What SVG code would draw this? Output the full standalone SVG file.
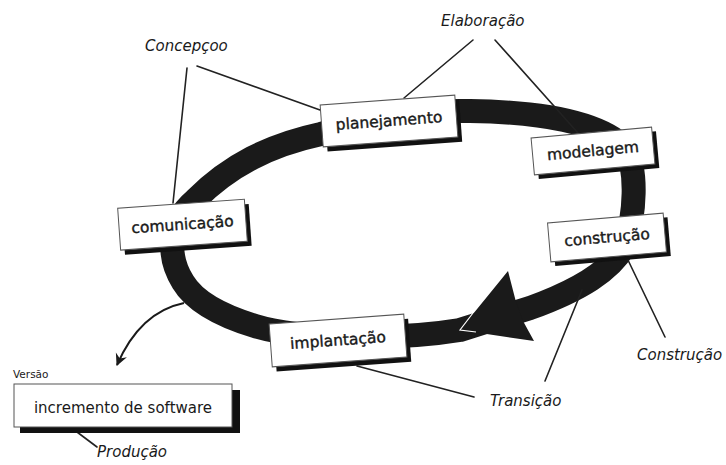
<svg xmlns="http://www.w3.org/2000/svg" width="726" height="465" viewBox="0 0 726 465">
<defs>
<style>
.ring{fill:none;stroke:#1a1a1a;stroke-width:24;stroke-linejoin:round}
.box{fill:#fff;stroke:#555;stroke-width:1}
.shadow{fill:#111}
.lbl{font-family:"DejaVu Sans","Liberation Sans",sans-serif;font-size:15.5px;fill:#1a1a1a;stroke:#1a1a1a;stroke-width:0.4;text-anchor:middle}
.phase{font-family:"DejaVu Sans","Liberation Sans",sans-serif;font-size:15px;font-style:italic;fill:#1a1a1a}
.lead{fill:none;stroke:#222;stroke-width:1.6;stroke-linecap:round}
</style>
<marker id="barb" viewBox="-12 -7 14 14" refX="0" refY="0" markerWidth="14" markerHeight="14" markerUnits="userSpaceOnUse" orient="auto">
<path d="M1,0 L-11,-6 L-7,0 L-11,6 Z" fill="#1a1a1a"/>
</marker>
</defs>
<rect width="726" height="465" fill="#fff"/>

<g id="cycle">
<path class="ring" d="M321,134 C380,115 430,110 470,111 C540,112 600,122 625,148 C638,170 635,215 625,245 C612,270 580,290 530,308 L460,330 C400,340 300,340 255,326 C222,316 195,302 183,282 C168,258 166,225 195,200 C230,165 270,145 321,134 Z"/>
<polygon points="508,271 516,302 523,321 534,341 460,330" fill="#1a1a1a"/>
<polyline points="473,313 460,330 476,332" fill="none" stroke="#fff" stroke-width="1.2"/>
</g>

<g id="connectors">
<line class="lead" x1="197" y1="66" x2="320" y2="110"/>
<line class="lead" x1="187" y1="68" x2="173" y2="203"/>
<line class="lead" x1="473" y1="40" x2="404" y2="98"/>
<line class="lead" x1="495" y1="40" x2="578" y2="133"/>
<line class="lead" x1="627" y1="258" x2="665" y2="337"/>
<line class="lead" x1="582" y1="290" x2="545" y2="381"/>
<line class="lead" x1="357" y1="366" x2="474" y2="397"/>
<line class="lead" x1="77" y1="432" x2="97" y2="447"/>
<path d="M184,303 Q140,312 117,365" fill="none" stroke="#1a1a1a" stroke-width="2" marker-end="url(#barb)"/>
</g>

<g id="planejamento" transform="translate(389,121) rotate(-4.2)">
<rect class="shadow" x="-63.5" y="-16" width="135" height="42"/>
<rect class="box" x="-67.5" y="-21" width="135" height="42"/>
<text class="lbl" x="0" y="5">planejamento</text>
</g>

<g id="modelagem" transform="translate(593,151) rotate(-5.2)">
<rect class="shadow" x="-56.5" y="-14" width="121" height="37"/>
<rect class="box" x="-60.5" y="-18.5" width="121" height="37"/>
<text class="lbl" x="0" y="5">modelagem</text>
</g>

<g id="construcao" transform="translate(607,237.5) rotate(-4.9)">
<rect class="shadow" x="-54" y="-15" width="116" height="39"/>
<rect class="box" x="-58" y="-19.5" width="116" height="39"/>
<text class="lbl" x="0" y="5">construção</text>
</g>

<g id="comunicacao" transform="translate(182.5,224.7) rotate(-4.05)">
<rect class="shadow" x="-59.5" y="-16" width="127" height="42"/>
<rect class="box" x="-63.5" y="-21" width="127" height="42"/>
<text class="lbl" x="0" y="5">comunicação</text>
</g>

<g id="implantacao" transform="translate(338,340.5) rotate(-4.2)">
<rect class="shadow" x="-63.5" y="-16.5" width="135" height="43"/>
<rect class="box" x="-67.5" y="-21.5" width="135" height="43"/>
<text class="lbl" x="0" y="5">implantação</text>
</g>

<g id="incremento">
<text x="13" y="378" font-family="DejaVu Sans, Liberation Sans, sans-serif" font-size="10.5" fill="#1a1a1a">Versão</text>
<rect class="shadow" x="20" y="390" width="220" height="43"/>
<rect class="box" x="14" y="384" width="218" height="43"/>
<text x="123" y="413" font-family="DejaVu Sans, Liberation Sans, sans-serif" font-size="15" fill="#1a1a1a" text-anchor="middle">incremento de software</text>
</g>

<g id="labels">
<text class="phase" x="441" y="26">Elaboração</text>
<text class="phase" x="145" y="51">Concepçoo</text>
<text class="phase" x="637" y="360">Construção</text>
<text class="phase" x="490" y="406">Transição</text>
<text class="phase" x="97" y="457">Produção</text>
</g>
</svg>
